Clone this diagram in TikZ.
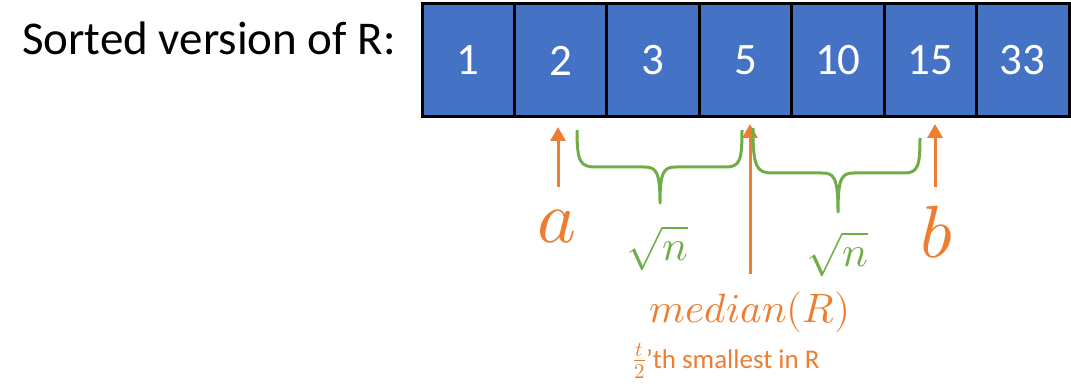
\documentclass[tikz,border=0pt]{standalone}
\usepackage{fontspec}
\usepackage{unicode-math}
\setmainfont{Carlito}
\setmathfont{Latin Modern Math}
\usetikzlibrary{arrows.meta}
\definecolor{cellblue}{HTML}{4472C4}
\definecolor{ora}{HTML}{ED7D31}
\definecolor{grn}{HTML}{70AD47}
\tikzset{
  cell/.style={draw=black, line width=3pt, fill=cellblue, minimum width=92.43pt,
    minimum height=113pt, inner sep=0pt, text=white,
    font=\fontsize{45}{48}\selectfont},
  oarrow/.style={draw=ora, line width=3pt, -{Triangle[width=15pt,length=14pt]}},
  gbrace/.style={draw=grn, line width=3pt, line join=round},
  olabel/.style={text=ora, inner sep=0pt},
  glabel/.style={text=grn, inner sep=0pt}
}
\begin{document}
\begin{tikzpicture}[x=1pt,y=-1pt]
\useasboundingbox (0,0) rectangle (1071,390);
\node[anchor=base west, inner sep=0pt, font=\fontsize{47}{52}\selectfont] (title) at (22,55) {Sorted version of R:};
\foreach \v [count=\i] in {1,2,3,5,10,15,33} {
  \node[cell] (c\i) at ({422+92.43*(\i-0.5)},60.5) {\v};
}
% arrows
\coordinate (atail) at (558,187);
\coordinate (ahead) at (558,127);
\coordinate (mtail) at (750,274);
\coordinate (mhead) at (750,124);
\coordinate (btail) at (935,187);
\coordinate (bhead) at (935,124);
\draw[oarrow] (atail) -- (ahead);
\draw[oarrow] (mtail) -- (mhead);
\draw[oarrow] (btail) -- (bhead);
% braces
\draw[gbrace] (577,130) .. controls (577,162) and (580,167) .. (596,167) -- (644,167)
  .. controls (656,167) and (660,171) .. (660,203)
  .. controls (660,171) and (664,167) .. (676,167) -- (726,167)
  .. controls (740,167) and (742,160) .. (742,130);
\draw[gbrace] (753,128) .. controls (753,166) and (756,173) .. (772,173) -- (822,173)
  .. controls (834,173) and (838,177) .. (838,212)
  .. controls (838,177) and (842,173) .. (854,173) -- (904,173)
  .. controls (918,173) and (920,166) .. (920,138);
% labels
\node[olabel, font=\fontsize{74}{78}\selectfont] (la) at (557,227) {$a$};
\node[olabel, font=\fontsize{74}{78}\selectfont] (lb) at (937,232) {$b$};
\node[glabel, font=\fontsize{43}{46}\selectfont] (sq1) at (657,248) {$\sqrt{n}$};
\node[glabel, font=\fontsize{43}{46}\selectfont] (sq2) at (837,254) {$\sqrt{n}$};
\node[olabel, font=\fontsize{41}{44}\selectfont] (med) at (750,312) {$median(R)$};
\node[olabel, anchor=base west, font=\fontsize{27}{30}\selectfont] (sm) at (633,368) {{\fontsize{30}{30}\selectfont$\frac{t}{2}$}’th smallest in R};
\end{tikzpicture}
\end{document}
